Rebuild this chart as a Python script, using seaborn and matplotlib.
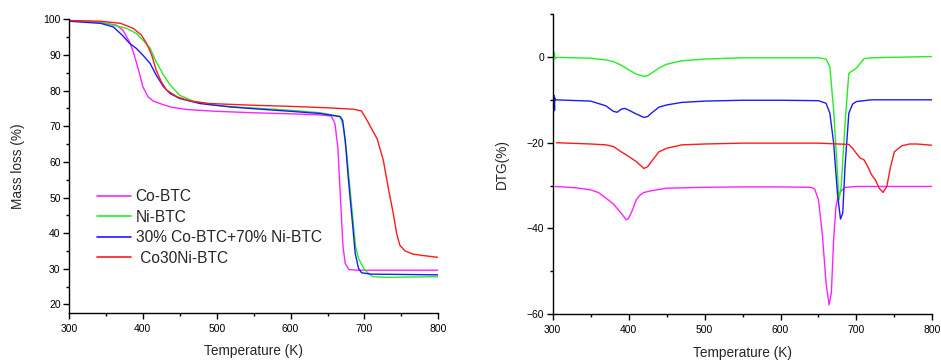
import numpy as np
import pandas as pd
import matplotlib
matplotlib.use("Agg")
import matplotlib.pyplot as plt
from matplotlib.ticker import MultipleLocator
import seaborn as sns

sns.set_theme(style="ticks")
plt.rcParams["font.family"] = ["Liberation Sans", "DejaVu Sans"]

# ---- TGA mass loss (%) vs temperature (K) ----
tga_co_T = [300, 340, 364, 373, 382, 387, 391, 396, 400, 407, 414, 427, 440, 460, 500, 550, 600, 640, 655, 660, 664, 667, 671, 674, 679, 690, 800]
tga_co_m = [99.6, 99.3, 98.4, 97.0, 93.7, 90.9, 88.1, 84.4, 81.1, 78.3, 77.1, 76.1, 75.3, 74.7, 74.2, 73.8, 73.5, 73.2, 72.9, 70.8, 64.0, 52.0, 36.2, 31.5, 29.8, 29.6, 29.6]

tga_ni_T = [300, 340, 360, 378, 391, 400, 410, 418, 428, 437, 450, 468, 490, 520, 560, 600, 640, 667, 671, 676, 681, 688, 692, 699, 705, 711, 731, 800]
tga_ni_m = [99.6, 99.3, 98.4, 97.5, 96.1, 94.2, 91.9, 88.1, 84.4, 81.6, 78.7, 77.1, 76.1, 75.5, 75.0, 74.5, 73.8, 72.8, 70.3, 62.4, 51.2, 36.2, 32.9, 30.1, 28.8, 27.8, 27.6, 27.8]

tga_mix_T = [300, 343, 360, 373, 382, 391, 400, 410, 418, 428, 437, 450, 477, 520, 560, 600, 640, 667, 670.5, 674, 678, 683, 687.5, 692, 696, 708, 800]
tga_mix_m = [99.5, 98.9, 97.9, 95.4, 93.3, 91.9, 90.0, 87.6, 84.4, 81.1, 79.2, 77.8, 76.4, 75.4, 74.8, 74.2, 73.6, 72.7, 71.7, 66.1, 55.8, 44.6, 34.3, 30.1, 28.9, 28.5, 28.3]

tga_co30_T = [300, 343, 370, 387, 398, 405, 412, 418, 425, 432, 446, 464, 490, 550, 600, 650, 667, 685, 696, 704, 712, 717, 725.5, 732, 739, 743.6, 748, 755, 766, 780, 800]
tga_co30_m = [99.7, 99.5, 98.9, 97.5, 95.6, 93.3, 90.0, 85.8, 82.5, 80.2, 78.3, 77.1, 76.4, 75.9, 75.6, 75.2, 75.0, 74.8, 74.3, 71.5, 68.4, 66.6, 60.5, 53.0, 45.5, 39.9, 36.6, 35.0, 34.1, 33.7, 33.2]

# ---- DTG (%) vs temperature (K), curves offset by sample ----
dtg_ni_T = [302, 303, 305, 350, 370, 380, 390, 400, 410, 420, 425, 430, 440, 450, 470, 500, 550, 600, 650, 660, 665, 670, 675, 677, 680, 685, 690, 695, 700, 705, 710, 720, 800]
dtg_ni_v = [1.1, -0.4, -0.1, -0.3, -0.7, -1.1, -1.9, -3.0, -4.0, -4.5, -4.4, -3.8, -2.6, -1.7, -0.9, -0.5, -0.2, -0.2, -0.2, -0.5, -2.3, -12.4, -27.1, -33.3, -30.2, -15.5, -3.8, -3.2, -2.6, -1.5, -0.4, -0.2, 0.1]

dtg_mix_T = [302, 302.3, 302.6, 303, 350, 370, 380, 385, 390, 395, 400, 410, 420, 425, 430, 440, 450, 470, 500, 550, 600, 650, 660, 665, 670, 675, 679, 682, 685, 690, 695, 700, 720, 800]
dtg_mix_v = [-9.0, -12.5, -9.5, -10.0, -10.3, -11.4, -12.7, -12.9, -12.2, -12.0, -12.4, -13.3, -14.1, -13.9, -13.1, -11.7, -11.2, -10.6, -10.3, -10.1, -10.1, -10.2, -10.8, -13.1, -20.1, -31.8, -37.8, -36.4, -25.6, -13.1, -11.0, -10.4, -10.0, -10.0]

dtg_co30_T = [305, 350, 370, 380, 390, 400, 410, 420, 425, 430, 440, 450, 470, 500, 550, 600, 650, 690, 695, 700, 705, 710, 715, 720, 725, 730, 735, 740, 745, 750, 760, 770, 780, 800]
dtg_co30_v = [-20.0, -20.3, -20.5, -20.9, -22.1, -23.2, -24.4, -26.0, -25.6, -24.4, -22.1, -21.3, -20.5, -20.3, -20.1, -20.1, -20.1, -20.4, -21.3, -22.5, -23.6, -24.0, -25.6, -27.5, -28.7, -30.6, -31.6, -30.2, -25.6, -22.1, -20.7, -20.3, -20.3, -20.6]

dtg_co_T = [303, 330, 350, 360, 370, 380, 390, 397, 400, 405, 410, 415, 420, 430, 450, 500, 550, 600, 640, 645, 650, 655, 660, 664, 667, 670, 673, 677, 685, 700, 800]
dtg_co_v = [-30.2, -30.5, -31.0, -31.6, -32.9, -34.3, -36.4, -38.0, -37.6, -35.7, -33.3, -32.2, -31.6, -31.2, -30.6, -30.4, -30.3, -30.3, -30.4, -30.8, -33.3, -41.1, -52.7, -57.8, -55.0, -42.6, -34.9, -31.8, -30.4, -30.2, -30.2]

labels = ["Co-BTC", "Ni-BTC", "30% Co-BTC+70% Ni-BTC", " Co30Ni-BTC"]
colors = ["#ff22ff", "#22ee22", "#1a1aff", "#ff1a1a"]


def to_frame(pairs):
    parts = []
    for lab, (T, v) in zip(labels, pairs):
        parts.append(pd.DataFrame({"T": T, "v": v, "sample": lab}))
    return pd.concat(parts, ignore_index=True)


tga = to_frame([(tga_co_T, tga_co_m), (tga_ni_T, tga_ni_m),
                (tga_mix_T, tga_mix_m), (tga_co30_T, tga_co30_m)])
dtg = to_frame([(dtg_co_T, dtg_co_v), (dtg_ni_T, dtg_ni_v),
                (dtg_mix_T, dtg_mix_v), (dtg_co30_T, dtg_co30_v)])

palette = dict(zip(labels, colors))

fig = plt.figure(figsize=(9.41, 3.60), dpi=100)
ax1 = fig.add_axes([0.0733, 0.1297, 0.3925, 0.8163])
ax2 = fig.add_axes([0.5874, 0.1270, 0.4034, 0.8340])

sns.lineplot(data=tga, x="T", y="v", hue="sample", hue_order=labels,
             palette=palette, sort=False, estimator=None, linewidth=1.0, ax=ax1)
sns.lineplot(data=dtg, x="T", y="v", hue="sample", hue_order=labels,
             palette=palette, sort=False, estimator=None, linewidth=1.0,
             ax=ax2, legend=False)

tick_fs = 7.5
label_fs = 9.8

for ax in (ax1, ax2):
    ax.set_xlim(300, 800)
    ax.xaxis.set_major_locator(MultipleLocator(100))
    ax.xaxis.set_minor_locator(MultipleLocator(50))
    ax.spines["top"].set_visible(False)
    ax.spines["right"].set_visible(False)
    for s in ("left", "bottom"):
        ax.spines[s].set_linewidth(1.0)
        ax.spines[s].set_color("black")
    ax.tick_params(axis="both", which="major", direction="out", length=4,
                   width=1.0, labelsize=tick_fs, colors="black", pad=2)
    ax.tick_params(axis="x", which="major", pad=4)
    ax.tick_params(axis="both", which="minor", direction="out", length=2,
                   width=1.0, colors="black")

ax1.set_xlabel("Temperature (K)", fontsize=label_fs, labelpad=7)
ax2.set_xlabel("Temperature (K)", fontsize=label_fs, labelpad=7.5)

ax1.set_ylim(17.5, 100)
ax1.yaxis.set_major_locator(MultipleLocator(10))
ax1.yaxis.set_minor_locator(MultipleLocator(5))
ax1.set_ylabel("Mass loss (%)", fontsize=label_fs, labelpad=13)

ax2.set_ylim(-60, 10)
ax2.yaxis.set_major_locator(MultipleLocator(20))
ax2.yaxis.set_minor_locator(MultipleLocator(10))
ax2.set_yticks([0, -20, -40, -60])
ax2.set_ylabel("DTG(%)", fontsize=label_fs, labelpad=13)

leg = ax1.legend(loc="upper left", bbox_to_anchor=(0.058, 0.443), frameon=False,
                 fontsize=11.2, handlelength=2.2, handletextpad=0.3,
                 labelspacing=0.35, borderaxespad=0)
for h in leg.get_lines():
    h.set_linewidth(1.2)

fig.savefig("out.png", dpi=100)
